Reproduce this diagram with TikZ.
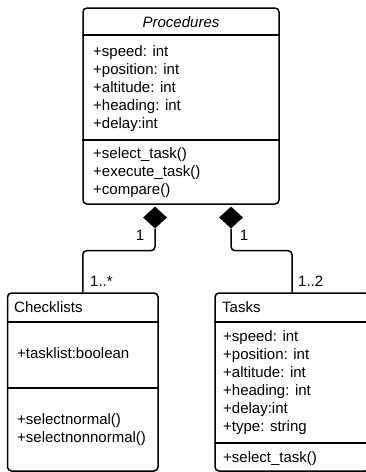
\documentclass[tikz,border=0pt]{standalone}
\usepackage{fontspec}
\setmainfont{Liberation Sans}
\usetikzlibrary{shapes.geometric}
\tikzset{
classbox/.style={draw, line width=1.5pt, rounded corners=4pt, inner sep=0pt},
member/.style={anchor=base west, inner sep=0pt},
comp/.style={diamond, fill=black, inner sep=0pt, minimum width=24pt, minimum height=22pt},
link/.style={line width=1.5pt, rounded corners=4pt},
}
\begin{document}
\begin{tikzpicture}[x=1pt, y=-1pt, font=\fontsize{15}{18}\selectfont]
\useasboundingbox (0,0) rectangle (366,472);
\clip (0,0) rectangle (366,472);
\node[classbox, minimum width=196pt, minimum height=196pt] (proc) at (181,106) {};
\draw[line width=1.5pt] (proc.west |- 0,35) -- (proc.east |- 0,35);
\draw[line width=1.5pt] (proc.west |- 0,140) -- (proc.east |- 0,140);
\node[anchor=base, inner sep=0pt, font=\fontsize{15}{18}\selectfont\itshape] (ptitle) at (181,27) {Procedures};
\node[member] (p1) at (93,56) {+speed: int};
\node[member] (p2) at (93,74) {+position: int};
\node[member] (p3) at (93,92) {+altitude: int};
\node[member] (p4) at (93,110) {+heading: int};
\node[member] (p5) at (93,128) {+delay:int};
\node[member] (p6) at (93,158) {+select\_task()};
\node[member] (p7) at (93,176) {+execute\_task()};
\node[member] (p8) at (93,194) {+compare()};
\node[classbox, minimum width=150.5pt, minimum height=178pt] (chk) at (82.75,382) {};
\draw[line width=1.5pt] (chk.west |- 0,322) -- (chk.east |- 0,322);
\draw[line width=1.5pt] (chk.west |- 0,388) -- (chk.east |- 0,388);
\node[member] (ctitle) at (14,312) {Checklists};
\node[member] (c1) at (17,358) {+tasklist:boolean};
\node[member] (c2) at (17,424) {+selectnormal()};
\node[member] (c3) at (17,442) {+selectnonnormal()};
\node[classbox, minimum width=154pt, minimum height=178pt] (tsk) at (292,382) {};
\draw[line width=1.5pt] (tsk.west |- 0,322) -- (tsk.east |- 0,322);
\draw[line width=1.5pt] (tsk.west |- 0,443) -- (tsk.east |- 0,443);
\node[member] (ttitle) at (222,312) {Tasks};
\node[member] (t1) at (223,341) {+speed: int};
\node[member] (t2) at (223,359) {+position: int};
\node[member] (t3) at (223,377) {+altitude: int};
\node[member] (t4) at (223,395) {+heading: int};
\node[member] (t5) at (223,413) {+delay:int};
\node[member] (t6) at (223,431) {+type: string};
\node[member] (t7) at (223,462) {+select\_task()};
\node[comp] (dl) at (155,217.5) {};
\node[comp] (dr) at (231,217.5) {};
\draw[link] (dl.south) -- ++(0,22) -| (chk.north);
\draw[link] (dr.south) -- ++(0,22) -| (tsk.north);
\node[anchor=base, inner sep=0pt] (ml1) at (140,240) {1};
\node[anchor=base, inner sep=0pt] (mr1) at (244,240) {1};
\node[member] (ml2) at (90,286) {1..*};
\node[member] (mr2) at (298,286) {1..2};
\end{tikzpicture}
\end{document}
